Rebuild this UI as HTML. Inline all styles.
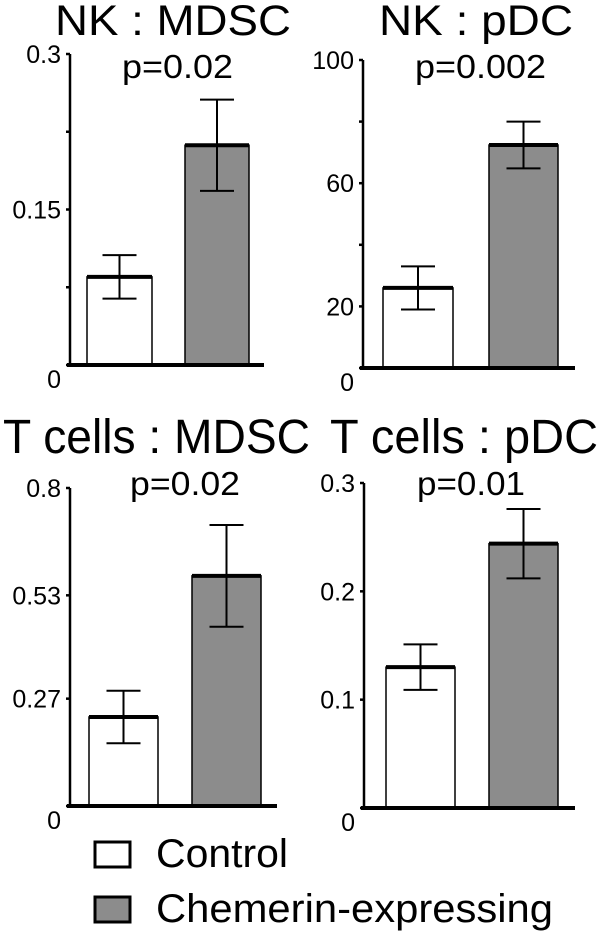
<!DOCTYPE html>
<html><head><meta charset="utf-8"><style>
body{margin:0;background:#fff;width:600px;height:931px;overflow:hidden}
svg{display:block;font-family:"Liberation Sans",sans-serif}
</style></head><body>
<svg id="c" width="600" height="931"></svg>
<script>
const panelTitles=["NK : MDSC","NK : pDC","T cells : MDSC","T cells : pDC"];
const pValues=["p=0.02","p=0.002","p=0.02","p=0.01"];
const axisMax=[0.3,100,0.8,0.3];
const tickValues=[[0,0.075,0.15,0.225,0.3],[0,20,40,60,80,100],[0,0.27,0.53,0.8],[0,0.1,0.2,0.3]];
const tickLabels=[["0","","0.15","","0.3"],["0","20","","60","","100"],["0","0.27","0.53","0.8"],["0","0.1","0.2","0.3"]];
const controlMeans=[0.085,26,0.224,0.130];
const controlErr=[0.021,7,0.066,0.021];
const chemerinMeans=[0.212,72.4,0.579,0.244];
const chemerinErr=[0.044,7.6,0.128,0.032];
const legendLabels=["Control","Chemerin-expressing"];

const L=[
 {ax:70,top:54,base:365,b1:[87,152],b2:[185,249],end:264,tx:55,ty:35,tw:236,ts:43,px:122,py:78,pw:111},
 {ax:363,top:60,base:368,b1:[383,453],b2:[489,558],end:575,tx:379,ty:35,tw:194,ts:43,px:415,py:78,pw:131},
 {ax:70,top:488,base:806,b1:[89,158],b2:[192,261],end:277,tx:3,ty:453,tw:307,ts:48,px:130,py:495,pw:110},
 {ax:364,top:483,base:808,b1:[386,455],b2:[489,558],end:575,tx:330,ty:453,tw:268,ts:48,px:417,py:495,pw:108}
];
const svg=document.getElementById('c');
const NS='http://www.w3.org/2000/svg';
function mk(t,a,p){const e=document.createElementNS(NS,t);for(const k in a)e.setAttribute(k,a[k]);(p||svg).appendChild(e);return e;}
L.forEach((g,i)=>{
 const grp=mk('g',{});
 
 
 const y=v=>g.base-(v/axisMax[i])*(g.base-g.top);
 const t=mk('text',{x:g.tx,y:g.ty,'font-size':g.ts,textLength:g.tw,lengthAdjust:'spacingAndGlyphs'},grp);t.textContent=panelTitles[i];
 
 
 const p=mk('text',{x:g.px,y:g.py,'font-size':33,textLength:g.pw,lengthAdjust:'spacingAndGlyphs'},grp);p.textContent=pValues[i];
 
 
 const ya=mk('line',{x1:g.ax,x2:g.ax,y1:g.top,y2:g.base,stroke:'#000','stroke-width':2.5},grp);
 
 
 tickValues[i].forEach((v,j)=>{
  const ty=y(v);
  mk('line',{x1:g.ax-4,x2:g.ax,y1:ty,y2:ty,stroke:'#000','stroke-width':2.5},grp);
  const lab=tickLabels[i][j];
  if(lab){const tt=mk('text',{x:g.ax-9,y:j==0?ty+23:ty+9,'text-anchor':'end','font-size':25},grp);tt.textContent=lab;
   
   }
 });
 [[g.b1,controlMeans[i],controlErr[i],'#fff'],[g.b2,chemerinMeans[i],chemerinErr[i],'#8c8c8c']].forEach((b,k)=>{
  const x0=b[0][0],x1=b[0][1],top=y(b[1]),cx=(x0+x1)/2;
  const r=mk('rect',{x:x0,y:top,width:x1-x0,height:g.base-top,fill:b[3],stroke:'#000','stroke-width':1.5},grp);
  
  
  mk('line',{x1:x0,x2:x1,y1:top,y2:top,stroke:'#000','stroke-width':4},grp);
  const e=mk('path',{d:`M${cx},${y(b[1]+b[2])}V${y(b[1]-b[2])}M${cx-17},${y(b[1]+b[2])}H${cx+17}M${cx-17},${y(b[1]-b[2])}H${cx+17}`,stroke:'#000','stroke-width':2,fill:'none'},grp);
  
  
 });
 const xa=mk('line',{x1:g.ax-3,x2:g.end,y1:g.base,y2:g.base,stroke:'#000','stroke-width':4},grp);
 
 
});
const legendWidths=[132,397];
legendLabels.forEach((l,k)=>{
 const y0=842+k*55;
 const r=mk('rect',{x:95,y:y0,width:35,height:25,fill:k?'#8c8c8c':'#fff',stroke:'#000','stroke-width':3});
 
 
 const t=mk('text',{x:156,y:y0+25,'font-size':40,textLength:legendWidths[k],lengthAdjust:'spacingAndGlyphs'});t.textContent=l;
 
 
});
</script>
</body></html>
